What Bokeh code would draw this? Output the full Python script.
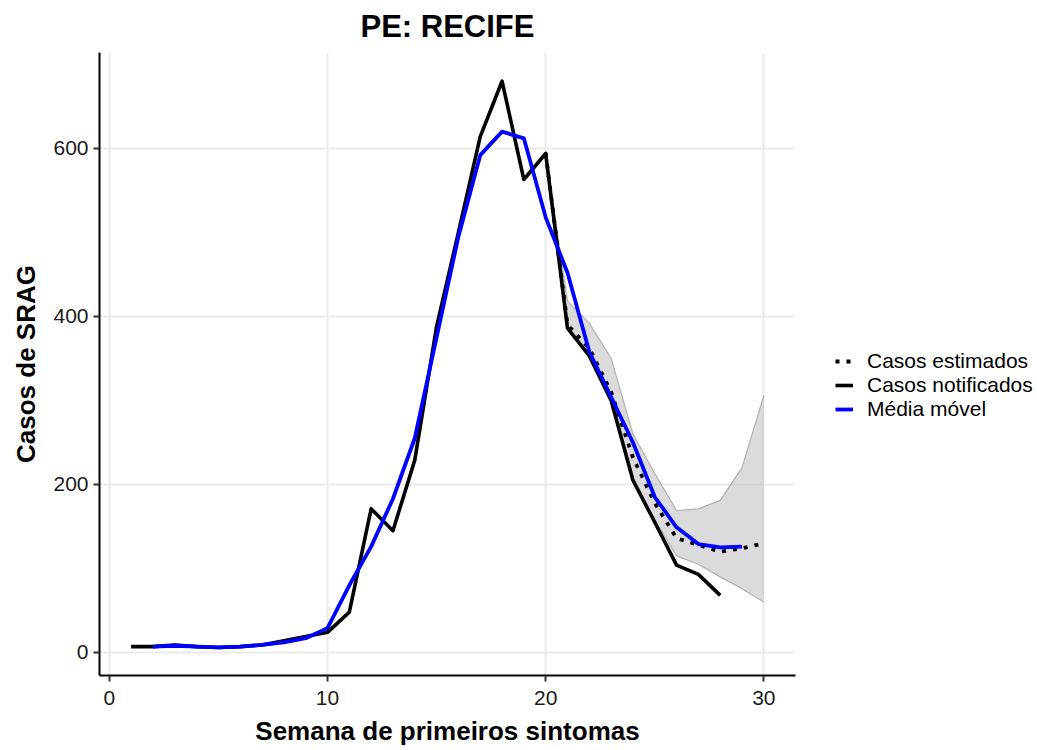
from bokeh.plotting import figure
from bokeh.models import Legend, LegendItem, Range1d, FixedTicker, ColumnDataSource
from bokeh.embed import file_html
from bokeh.resources import INLINE

# ---- data ----
semanas_notificados = list(range(1, 29))
casos_notificados = [7, 7, 9, 7, 6, 7, 9, 14, 19, 24, 48, 171, 145, 229, 388, 500, 614, 680,
                     563, 594, 386, 353, 300, 205, 155, 104, 93, 68]

semanas_media = list(range(2, 30))
media_movel = [7, 8, 7, 6, 7, 9, 12, 17, 29, 80, 126, 183, 255, 375, 495, 592, 620, 612,
               518, 452, 358, 304, 250, 185, 149, 129, 125, 126]

semanas_estimados = list(range(20, 31))
casos_estimados = [594, 390, 362, 310, 232, 178, 136, 128, 120, 124, 130]
ic_inferior = [594, 386, 352, 300, 208, 158, 115, 105, 90, 76, 60]
ic_superior = [594, 418, 392, 350, 260, 213, 169, 171, 181, 220, 306]

x_ticks = [0, 10, 20, 30]
y_ticks = [0, 200, 400, 600]

FONT = "Liberation Sans"

src_not = ColumnDataSource(dict(x=semanas_notificados, y=casos_notificados))
src_med = ColumnDataSource(dict(x=semanas_media, y=media_movel))
src_est = ColumnDataSource(dict(x=semanas_estimados, y=casos_estimados,
                                lo=ic_inferior, hi=ic_superior))

p = figure(frame_width=696, frame_height=623,
           x_range=Range1d(-0.45, 31.45), y_range=Range1d(-27.4, 714.2),
           output_backend="svg", toolbar_location=None,
           min_border_left=99, min_border_right=234, min_border_top=52,
           min_border_bottom=66, title="PE: RECIFE")

p.outline_line_color = None
p.background_fill_color = "white"
p.border_fill_color = "white"

p.title.text_font = FONT
p.title.text_font_size = "31px"
p.title.text_font_style = "bold"
p.title.align = "center"
p.title.vertical_align = "top"
p.title.text_color = "black"
p.title.standoff = 14

for ax, ticks in ((p.xaxis, x_ticks), (p.yaxis, y_ticks)):
    ax.ticker = FixedTicker(ticks=ticks)
    ax.axis_line_color = "black"
    ax.axis_line_width = 2
    ax.major_tick_line_color = "#333333"
    ax.major_tick_line_width = 2
    ax.major_tick_out = 6
    ax.major_tick_in = 0
    ax.minor_tick_line_color = None
    ax.major_label_text_font = FONT
    ax.major_label_text_font_size = "21px"
    ax.major_label_text_color = "#1a1a1a"
    ax.axis_label_text_font = FONT
    ax.axis_label_text_font_size = "26px"
    ax.axis_label_text_font_style = "bold"
    ax.axis_label_text_color = "black"

p.xaxis.axis_label = "Semana de primeiros sintomas"
p.yaxis.axis_label = "Casos de SRAG"
p.xaxis.major_label_standoff = 9
p.yaxis.major_label_standoff = 5
p.xaxis.axis_label_standoff = 8
p.yaxis.axis_label_standoff = 9

p.xgrid.ticker = FixedTicker(ticks=x_ticks)
p.ygrid.ticker = FixedTicker(ticks=y_ticks)
for g in (p.xgrid, p.ygrid):
    g.grid_line_color = "#EBEBEB"
    g.grid_line_width = 2

# ribbon
p.varea(x="x", y1="lo", y2="hi", source=src_est, fill_color="#BEBEBE", fill_alpha=0.55)
p.line(x="x", y="lo", source=src_est, line_color="#B0B0B0", line_width=1.2)
p.line(x="x", y="hi", source=src_est, line_color="#B0B0B0", line_width=1.2)

r_not = p.line(x="x", y="y", source=src_not, line_color="black", line_width=3.6,
               line_join="round")
r_est = p.line(x="x", y="y", source=src_est, line_color="black", line_width=3.8,
               line_dash="4 7")
r_med = p.line(x="x", y="y", source=src_med, line_color="#0000FF", line_width=3.8,
               line_join="round")

legend = Legend(items=[LegendItem(label="Casos estimados", renderers=[r_est]),
                       LegendItem(label="Casos notificados", renderers=[r_not]),
                       LegendItem(label="Média móvel", renderers=[r_med])],
                location=(40, 254))
legend.label_text_font = FONT
legend.label_text_font_size = "21px"
legend.label_text_color = "black"
legend.glyph_width = 18
legend.glyph_height = 20
legend.label_height = 20
legend.label_standoff = 14
legend.spacing = 0
legend.padding = 0
legend.margin = 0
legend.border_line_color = None
legend.background_fill_alpha = 0
p.add_layout(legend, "right")

open("out.html", "w").write(file_html(p, INLINE))
